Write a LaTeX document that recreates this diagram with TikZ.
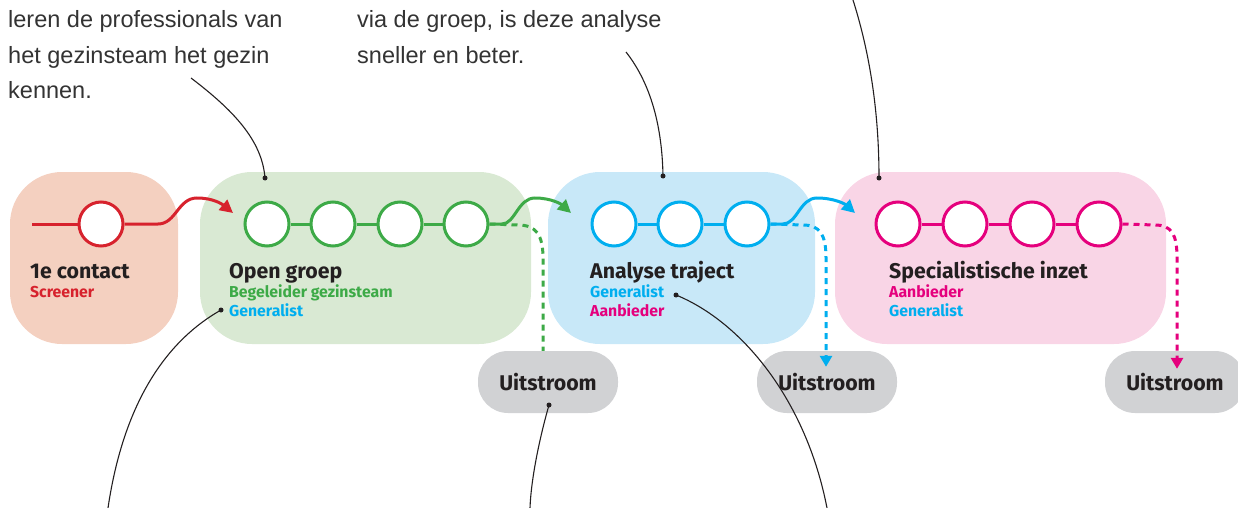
\documentclass[tikz,border=0pt]{standalone}
\usepackage{fontspec}
\setmainfont{Liberation Sans}
\newfontfamily\disp{Fira Sans}
\usetikzlibrary{arrows.meta,calc}
\definecolor{cred}{HTML}{D7222D}
\definecolor{cgreen}{HTML}{3DAA47}
\definecolor{cblue}{HTML}{00AEEF}
\definecolor{cmag}{HTML}{E5007D}
\definecolor{fsal}{HTML}{F4D0C0}
\definecolor{fgreen}{HTML}{D9E9D3}
\definecolor{fblue}{HTML}{C8E8F8}
\definecolor{fpink}{HTML}{F9D5E6}
\definecolor{fgrey}{HTML}{D1D2D4}
\definecolor{ink}{HTML}{231F20}
\definecolor{bodyc}{HTML}{333333}
\tikzset{
  phase/.style={fill=#1, draw=none, rounded corners=52pt, inner sep=0pt},
  outbox/.style={fill=fgrey, draw=none, rounded corners=30pt, minimum width=140pt, minimum height=62pt, inner sep=0pt, font=\disp\bfseries\fontsize{21.3}{23}\selectfont, text=ink},
  stop/.style={circle, draw=#1, fill=white, line width=3pt, minimum size=44pt, inner sep=0pt},
  flow/.style={draw=#1, line width=3pt},
  flowarrow/.style={draw=#1, line width=3pt, -{Triangle[length=13pt,width=13pt]}},
  outflow/.style={draw=#1, line width=3pt, dash pattern=on 6pt off 5pt},
  title/.style={anchor=base west, inner sep=0pt, text=ink, font=\disp\bfseries\fontsize{21.3}{23}\selectfont},
  role/.style={anchor=base west, inner sep=0pt, text=#1, font=\disp\bfseries\fontsize{15.8}{17}\selectfont},
  body/.style={anchor=base west, inner sep=0pt, text=bodyc, font=\fontsize{23.5}{26}\selectfont},
  leader/.style={draw=ink, line width=1.1pt},
  dotend/.style={circle, fill=ink, inner sep=0pt, minimum size=5pt},
}
\begin{document}
\begin{tikzpicture}[x=1pt,y=-1pt]
\useasboundingbox (0,0) rectangle (1238,508);
% phase boxes
\node[phase=fsal, minimum width=168pt, minimum height=172pt] (box1) at (94,258) {};
\node[phase=fgreen, minimum width=331pt, minimum height=172pt] (box2) at (365.5,258) {};
\node[phase=fblue, minimum width=267pt, minimum height=172pt] (box3) at (681.5,258) {};
\node[phase=fpink, minimum width=331pt, minimum height=172pt] (box4) at (1000.5,258) {};
% outflow boxes
\node[outbox] (u1) at (548,382) {Uitstroom};
\node[outbox] (u2) at (827,382) {Uitstroom};
\node[outbox] (u3) at (1175,382) {Uitstroom};
% stops
\coordinate (start) at (32,224);
\node[stop=cred] (c0) at (101,224) {};
\node[stop=cgreen] (g1) at (267,224) {};
\node[stop=cgreen] (g2) at (333,224) {};
\node[stop=cgreen] (g3) at (400,224) {};
\node[stop=cgreen] (g4) at (466,224) {};
\node[stop=cblue] (b1) at (614,224) {};
\node[stop=cblue] (b2) at (680,224) {};
\node[stop=cblue] (b3) at (747,224) {};
\node[stop=cmag] (p1) at (898,224) {};
\node[stop=cmag] (p2) at (965,224) {};
\node[stop=cmag] (p3) at (1032,224) {};
\node[stop=cmag] (p4) at (1099,224) {};
% links
\draw[flow=cred] (start) -- (c0);
\draw[flow=cgreen] (g1) -- (g2); \draw[flow=cgreen] (g2) -- (g3); \draw[flow=cgreen] (g3) -- (g4);
\draw[flow=cblue] (b1) -- (b2); \draw[flow=cblue] (b2) -- (b3);
\draw[flow=cmag] (p1) -- (p2); \draw[flow=cmag] (p2) -- (p3); \draw[flow=cmag] (p3) -- (p4);
% wave arrows
\coordinate (a1) at (233,213);
\coordinate (a2) at (571,213);
\coordinate (a3) at (855,213);
\draw[flowarrow=cred] (c0.east) -- (158,224) .. controls (176,224) and (178,198) .. (197,198) .. controls (213,198) and (222,204) .. (a1);
\draw[flowarrow=cgreen] (g4.east) -- (502,224) .. controls (515,224) and (518,198) .. (535,198) .. controls (551,198) and (561,204) .. (a2);
\draw[flowarrow=cblue] (b3.east) -- (783,224) .. controls (797,224) and (800,198) .. (817,198) .. controls (834,198) and (845,204) .. (a3);
% outflows
\draw[outflow=cgreen] (g4.east) -- (518,225) .. controls (536,225) and (543,235) .. (543,258) -- ([xshift=-5pt]u1.north);
\draw[outflow=cblue, -{Triangle[length=11pt,width=12pt]}] (b3.east) -- (803,225) .. controls (820,225) and (826,235) .. (826,258) -- ([xshift=-1pt,yshift=-16pt]u2.north);
\draw[outflow=cmag, -{Triangle[length=11pt,width=12pt]}] (p4.east) -- (1155,225) .. controls (1172,225) and (1177,235) .. (1177,258) -- ([xshift=2pt,yshift=-18pt]u3.north);
% labels
\node[title] (t1) at (30,278) {1e contact};
\node[role=cred] (r1) at (30,297) {Screener};
\node[title] (t2) at (229,278) {Open groep};
\node[role=cgreen] (r2a) at (229,297) {Begeleider gezinsteam};
\node[role=cblue] (r2b) at (229,316) {Generalist};
\node[title] (t3) at (590,278) {Analyse traject};
\node[role=cblue] (r3a) at (590,297) {Generalist};
\node[role=cmag] (r3b) at (590,316) {Aanbieder};
\node[title] (t4) at (889,278) {Specialistische inzet};
\node[role=cmag] (r4a) at (889,297) {Aanbieder};
\node[role=cblue] (r4b) at (889,316) {Generalist};
% body texts
\node[body] (x1) at (8,28) {leren de professionals van};
\node[body] (x2) at (8,63.5) {het gezinsteam het gezin};
\node[body] (x3) at (8,99) {kennen.};
\node[body] (y1) at (357,28) {via de groep, is deze analyse};
\node[body] (y2) at (357,63.5) {sneller en beter.};
% leaders
\node[dotend] (d1) at (265,178) {};
\node[dotend] (d2) at (663,176) {};
\node[dotend] (d3) at (879,178) {};
\node[dotend] (d4) at (221,310) {};
\node[dotend] (d5) at (549,405) {};
\node[dotend] (d6) at (676,295) {};
\coordinate (e1) at (191,78);
\coordinate (e2) at (626,52);
\coordinate (e3) at (853,0);
\coordinate (e4) at (108,508);
\coordinate (e5) at (530,508);
\coordinate (e6) at (827,508);
\draw[leader] (e1) .. controls (233,110) and (262,140) .. (d1.center);
\draw[leader] (e2) .. controls (648,80) and (662,120) .. (d2.center);
\draw[leader] (e3) .. controls (872,60) and (879,120) .. (d3.center);
\draw[leader] (d4.center) .. controls (168,340) and (124,400) .. (e4);
\draw[leader] (d5.center) .. controls (539,440) and (531,480) .. (e5);
\draw[leader] (d6.center) .. controls (742,322) and (806,400) .. (e6);
\end{tikzpicture}
\end{document}
